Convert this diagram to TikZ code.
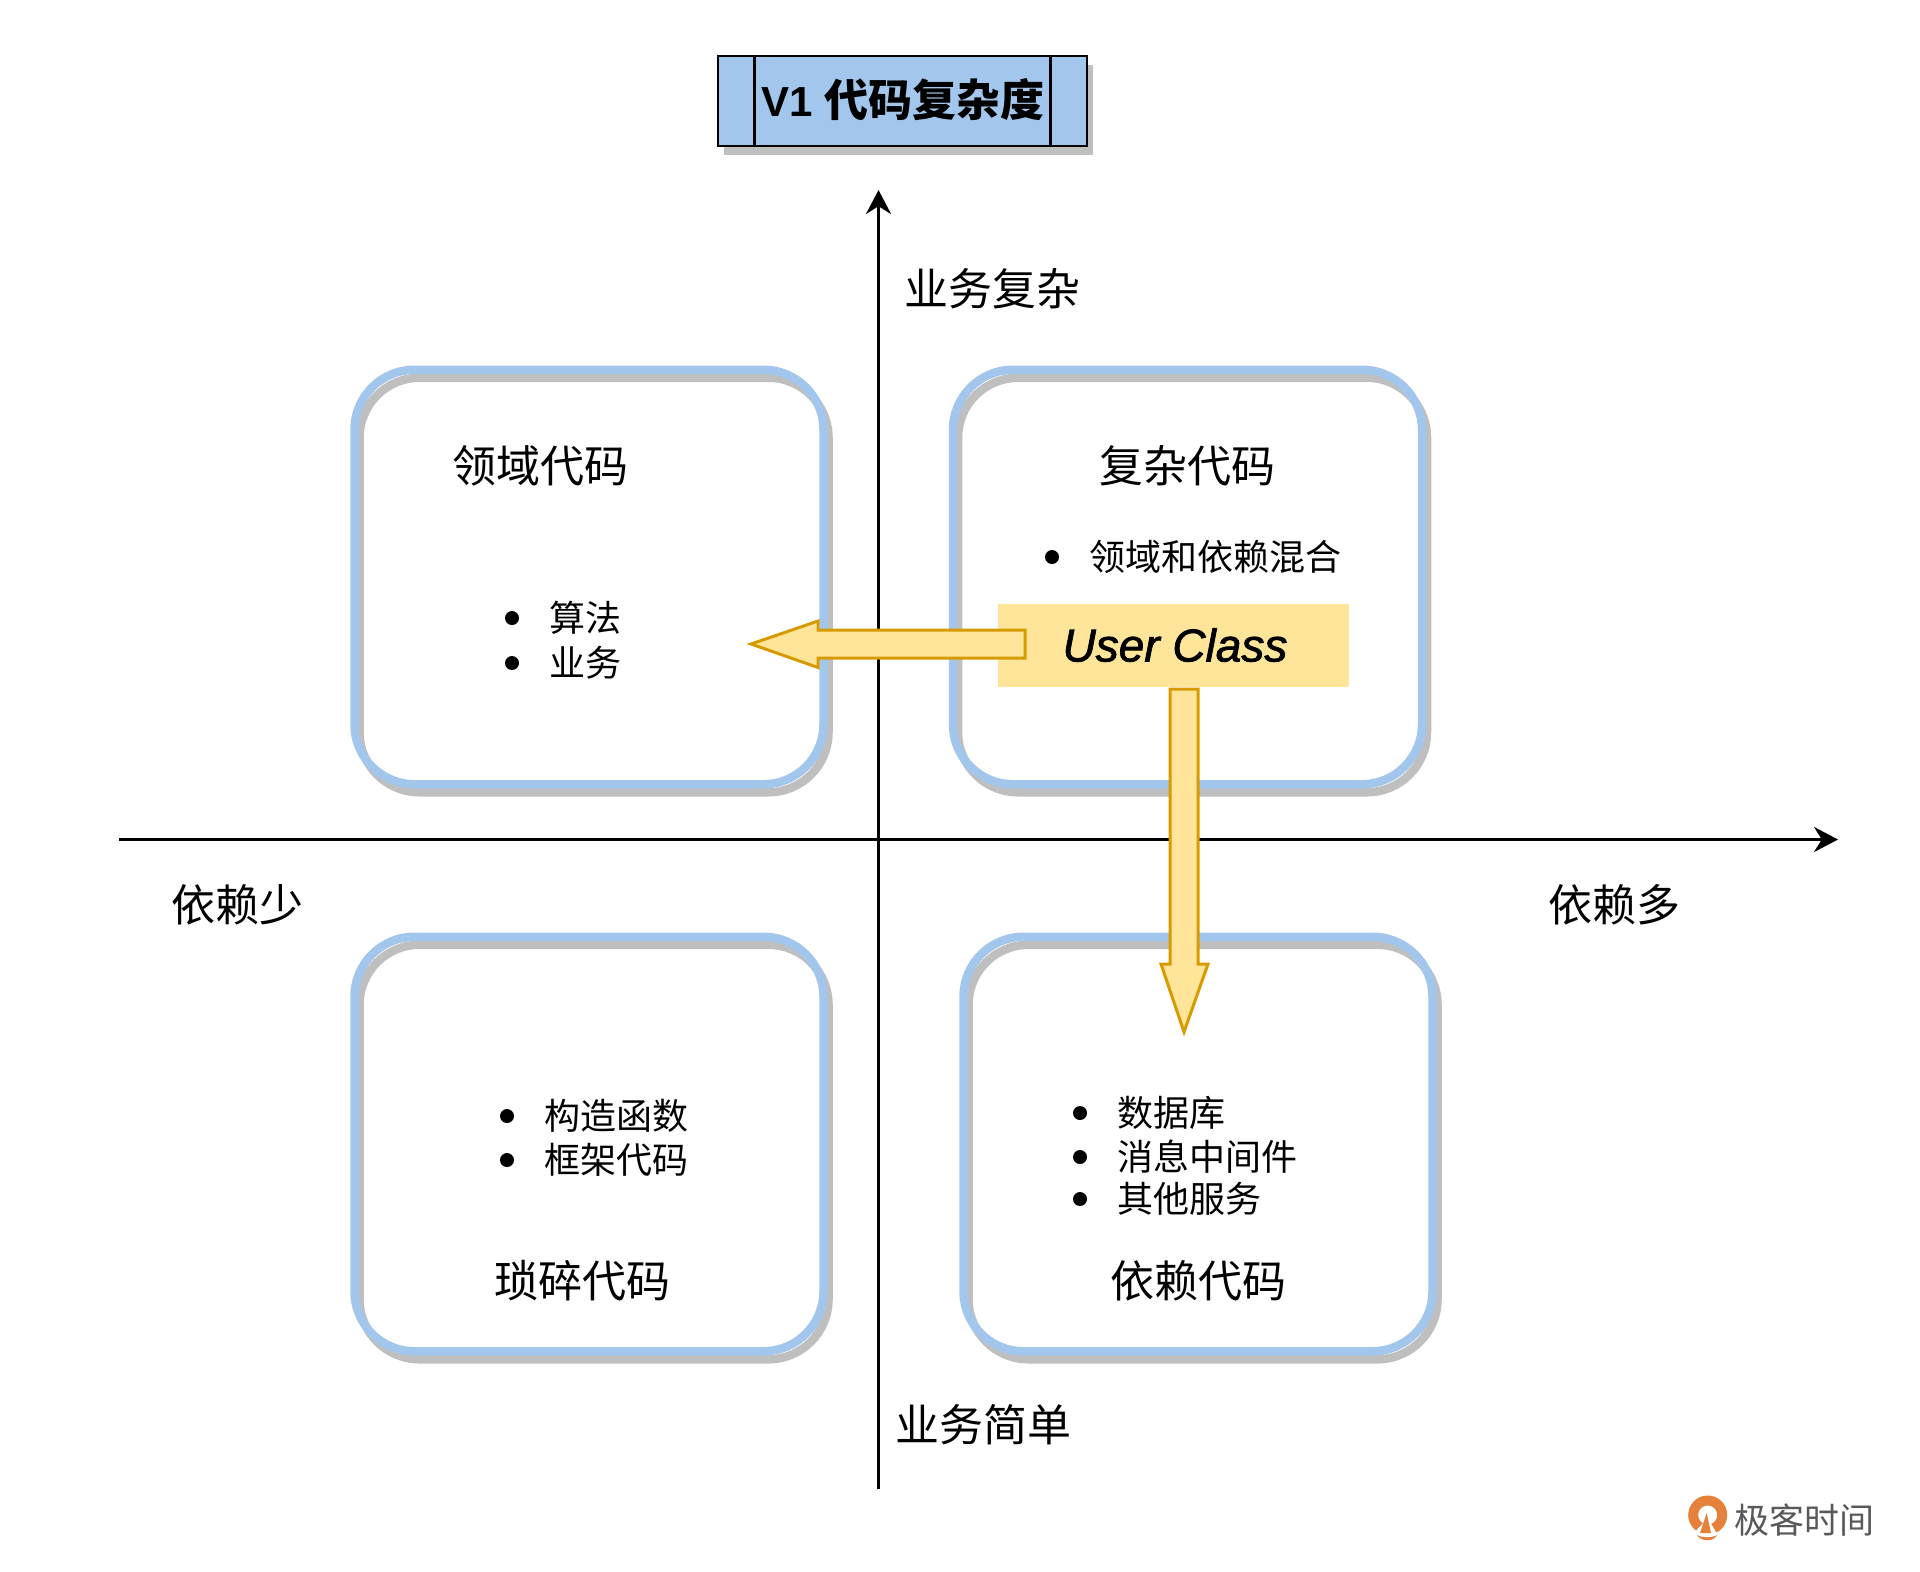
\documentclass[tikz,border=0pt]{standalone}
\usepackage{fontspec}
\setmainfont{Liberation Sans}
\newfontfamily\cjk{Noto Sans CJK SC}
\newfontfamily\classfont[ItalicFeatures={FakeBold=1.6}]{Liberation Sans}
\usetikzlibrary{arrows.meta}

\definecolor{boxblue}{HTML}{A3C7EC}
\definecolor{shadowgray}{HTML}{BFBFBF}
\definecolor{classyellow}{HTML}{FFE599}
\definecolor{arroworange}{HTML}{D79B00}
\definecolor{logoorange}{HTML}{E5813A}
\definecolor{logogray}{HTML}{595959}

\tikzset{
    quadbox/.style={draw=boxblue, line width=4.25pt, rounded corners=30pt, inner sep=0pt,
        minimum width=234.5pt, minimum height=207.25pt,
        preaction={draw=shadowgray, transform canvas={xshift=2.5pt, yshift=-4pt}}},
    titlebox/.style={draw=black, fill=boxblue, line width=1.4pt, inner sep=0pt,
        minimum width=184.5pt, minimum height=45pt,
        preaction={fill=shadowgray, transform canvas={xshift=3pt, yshift=-4.5pt}}},
    axisline/.style={line width=1.4pt, -{Stealth[length=12pt, width=12.5pt]}},
    biglabel/.style={inner sep=0pt, font=\cjk\fontsize{22pt}{26pt}\selectfont},
    itemlabel/.style={inner sep=0pt, anchor=west, font=\cjk\fontsize{18pt}{22pt}\selectfont},
    fatarrow/.style={draw=arroworange, fill=classyellow, line width=1.5pt, line join=miter}
}

\newcommand{\itemrow}[4]{
    \node[itemlabel] (#1) at (#2,#3) {#4};
    \fill (#2-37,#3) circle (7);
}

\begin{document}
\begin{tikzpicture}[x=0.5pt, y=-0.5pt]
    \useasboundingbox (0,0) rectangle (1920,1571);

    \node[quadbox] (domainbox) at (589,577) {};
    \node[quadbox] (complexbox) at (1187.5,577) {};
    \node[quadbox] (trivialbox) at (589,1144) {};
    \node[quadbox] (dependbox) at (1198,1144) {};

    \coordinate (ybottom) at (878.5,1489);
    \coordinate (ytop) at (878.5,190);
    \coordinate (xleft) at (119,839.5);
    \coordinate (xright) at (1838,839.5);
    \draw[axisline] (ybottom) -- (ytop);
    \draw[axisline] (xleft) -- (xright);

    \node[titlebox] (title) at (902.5,101) {};
    \draw[line width=1.4pt] (754.7,56) -- (754.7,146);
    \draw[line width=1.4pt] (1050.7,56) -- (1050.7,146);
    \node[inner sep=0pt, font=\bfseries\fontsize{21pt}{26pt}\selectfont] (titletext) at (903,100) {V1 {\cjk\bfseries\fontsize{22pt}{26pt}\selectfont 代码复杂度}};

    \node[biglabel] (ycomplex) at (992,289) {业务复杂};
    \node[biglabel] (ysimple) at (983,1425) {业务简单};
    \node[biglabel] (xfew) at (237,905) {依赖少};
    \node[biglabel] (xmany) at (1614,905) {依赖多};

    \node[biglabel] (domainlabel) at (540,466) {领域代码};
    \node[biglabel] (complexlabel) at (1187,466) {复杂代码};
    \node[biglabel] (triviallabel) at (582,1281) {琐碎代码};
    \node[biglabel] (dependlabel) at (1198,1281) {依赖代码};

    \itemrow{algo}{549}{618}{算法}
    \itemrow{biz}{549}{663}{业务}
    \itemrow{ctor}{544}{1116}{构造函数}
    \itemrow{frame}{544}{1160}{框架代码}
    \itemrow{db}{1117}{1113}{数据库}
    \itemrow{mq}{1117}{1157}{消息中间件}
    \itemrow{svc}{1117}{1199}{其他服务}
    \itemrow{mixed}{1089}{557}{领域和依赖混合}

    \node[fill=classyellow, inner sep=0pt, minimum width=175.5pt, minimum height=41.5pt] (userclass) at (1173.5,645.5) {};
    \node[inner sep=0pt, font=\classfont\itshape\fontsize{23pt}{27pt}\selectfont] (userclasstext) at (1175,645) {User Class};

    \filldraw[fatarrow] (1025,630) -- (818,630) -- (818,621) -- (751,644) -- (818,667.5) -- (818,658) -- (1025,658) -- cycle;
    \filldraw[fatarrow] (1170,689) -- (1198,689) -- (1198,964) -- (1208,964) -- (1184,1032) -- (1161,964) -- (1170,964) -- cycle;

    \draw[logoorange, line width=5pt] (1707.7,1515) ++(65:14.5) arc[start angle=65, end angle=-235, radius=14.5];
    \fill[logoorange] (1706.7,1513) -- (1700,1533) -- (1711,1533) -- cycle;
    \fill[logoorange] (1697,1535) .. controls (1702,1538) and (1713,1538) .. (1717,1535) .. controls (1714,1542) and (1701,1542) .. cycle;
    \node[inner sep=0pt, text=logogray, font=\cjk\fontsize{17.5pt}{21pt}\selectfont] (logotext) at (1804.5,1520) {极客时间};
\end{tikzpicture}
\end{document}
